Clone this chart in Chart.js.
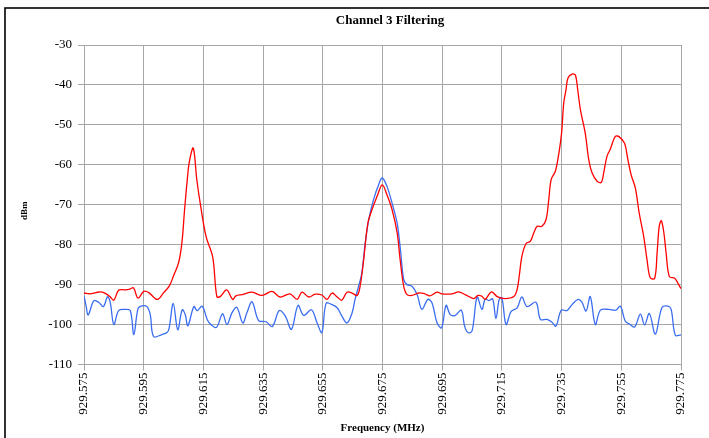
<!DOCTYPE html>
<html>
<head>
<meta charset="utf-8">
<title>Channel 3 Filtering</title>
<script src="https://cdn.jsdelivr.net/npm/chart.js@4/dist/chart.umd.min.js"></script>
<style>
  html, body { margin: 0; padding: 0; background: #ffffff; }
  #wrap { width: 709px; height: 438px; }
</style>
</head>
<body>
<div id="wrap"><canvas id="chart" width="709" height="438"></canvas></div>
<script>
// Sweep without filter (red) and with filter (blue), frequency in MHz, level in dBm
const unfilteredFreq = [
  929.5750, 929.5770, 929.5790, 929.5807, 929.5824, 929.5837, 929.5850, 929.5866, 929.5887, 929.5904,
  929.5916, 929.5931, 929.5950, 929.5967, 929.5995, 929.6017, 929.6036, 929.6050, 929.6067, 929.6078,
  929.6087, 929.6096, 929.6103, 929.6116, 929.6128, 929.6141, 929.6159, 929.6181, 929.6195, 929.6206,
  929.6228, 929.6248, 929.6259, 929.6279, 929.6313, 929.6346, 929.6380, 929.6407, 929.6440, 929.6464,
  929.6480, 929.6503, 929.6524, 929.6547, 929.6564, 929.6581, 929.6598, 929.6614, 929.6631, 929.6648,
  929.6665, 929.6675, 929.6687, 929.6701, 929.6715, 929.6732, 929.6749, 929.6765, 929.6782, 929.6799,
  929.6809, 929.6821, 929.6832, 929.6849, 929.6871, 929.6892, 929.6909, 929.6933, 929.6949, 929.6983,
  929.7005, 929.7027, 929.7056, 929.7070, 929.7083, 929.7094, 929.7115, 929.7134, 929.7161, 929.7190,
  929.7201, 929.7208, 929.7217, 929.7231, 929.7245, 929.7257, 929.7268, 929.7284, 929.7298, 929.7307,
  929.7315, 929.7329, 929.7340, 929.7350, 929.7357, 929.7365, 929.7371, 929.7385, 929.7396, 929.7404,
  929.7413, 929.7429, 929.7441, 929.7452, 929.7469, 929.7483, 929.7491, 929.7502, 929.7513, 929.7530,
  929.7543, 929.7561, 929.7572, 929.7583, 929.7597, 929.7610, 929.7625, 929.7636, 929.7647, 929.7662,
  929.7670, 929.7677, 929.7684, 929.7692, 929.7700, 929.7711, 929.7729, 929.7740, 929.7750
];
const unfilteredDbm = [
  -92.1, -92.3, -92.0, -91.8, -92.3, -93.0, -93.9, -91.4, -91.3, -91.1,
  -90.8, -93.4, -91.7, -92.0, -93.7, -92.0, -90.3, -87.8, -84.5, -79.5,
  -71.2, -63.7, -59.2, -55.8, -63.8, -70.4, -78.0, -83.0, -93.0, -93.0,
  -91.3, -93.7, -92.8, -92.5, -91.9, -92.7, -91.7, -93.1, -92.3, -93.7,
  -91.9, -93.1, -92.4, -92.6, -93.7, -92.1, -93.1, -93.9, -91.9, -92.1,
  -92.7, -90.4, -83.7, -74.6, -71.2, -67.9, -65.0, -67.5, -71.2, -77.0,
  -83.7, -90.4, -92.5, -92.7, -92.1, -92.3, -92.8, -91.9, -92.3, -92.3,
  -91.8, -92.5, -93.5, -92.7, -92.9, -93.7, -91.8, -93.0, -93.5, -93.0,
  -91.2, -87.9, -82.9, -79.7, -79.2, -77.0, -75.4, -75.4, -73.7, -68.7,
  -63.7, -61.6, -57.5, -52.0, -44.6, -41.1, -38.3, -37.3, -37.5, -41.2,
  -46.2, -52.0, -58.7, -62.0, -64.1, -64.4, -62.0, -57.9, -56.1, -52.9,
  -53.0, -54.6, -58.7, -62.5, -65.8, -72.1, -77.9, -83.7, -88.3, -88.4,
  -82.0, -75.4, -74.0, -76.7, -82.0, -88.0, -88.4, -89.7, -91.0
];

const filteredFreq = [
  929.5750, 929.5757, 929.5764, 929.5783, 929.5799, 929.5815, 929.5829, 929.5838, 929.5850, 929.5866,
  929.5888, 929.5905, 929.5917, 929.5931, 929.5944, 929.5961, 929.5972, 929.5983, 929.6011, 929.6028,
  929.6035, 929.6049, 929.6064, 929.6079, 929.6089, 929.6098, 929.6118, 929.6129, 929.6146, 929.6163,
  929.6175, 929.6194, 929.6214, 929.6229, 929.6246, 929.6262, 929.6282, 929.6296, 929.6313, 929.6335,
  929.6360, 929.6381, 929.6404, 929.6424, 929.6445, 929.6467, 929.6486, 929.6512, 929.6531, 929.6547,
  929.6561, 929.6581, 929.6598, 929.6614, 929.6631, 929.6648, 929.6658, 929.6670, 929.6681, 929.6692,
  929.6704, 929.6720, 929.6737, 929.6749, 929.6765, 929.6782, 929.6799, 929.6810, 929.6821, 929.6832,
  929.6849, 929.6866, 929.6882, 929.6902, 929.6916, 929.6933, 929.6948, 929.6963, 929.6977, 929.6994,
  929.7014, 929.7025, 929.7036, 929.7050, 929.7067, 929.7083, 929.7094, 929.7106, 929.7119, 929.7130,
  929.7141, 929.7150, 929.7164, 929.7181, 929.7201, 929.7217, 929.7234, 929.7264, 929.7279, 929.7301,
  929.7318, 929.7331, 929.7349, 929.7368, 929.7385, 929.7405, 929.7418, 929.7432, 929.7446, 929.7463,
  929.7480, 929.7508, 929.7532, 929.7547, 929.7563, 929.7580, 929.7595, 929.7614, 929.7628, 929.7644,
  929.7664, 929.7686, 929.7706, 929.7717, 929.7731, 929.7750
];
const filteredDbm = [
  -92.9, -95.3, -97.6, -94.0, -94.4, -95.5, -93.0, -94.5, -100.0, -96.5,
  -96.2, -96.5, -102.5, -96.0, -95.3, -95.5, -97.5, -103.0, -102.5, -102.0,
  -101.0, -94.7, -101.3, -96.3, -97.5, -100.3, -95.5, -96.5, -95.4, -98.8,
  -100.0, -100.7, -97.3, -100.0, -97.0, -95.7, -99.6, -97.0, -94.3, -99.0,
  -99.3, -100.5, -96.5, -97.8, -101.2, -95.2, -97.7, -96.3, -99.6, -102.0,
  -94.7, -95.0, -95.8, -97.9, -99.6, -97.1, -93.7, -90.4, -87.0, -79.6,
  -73.7, -68.7, -65.0, -63.3, -65.4, -69.6, -74.6, -81.2, -88.7, -90.0,
  -90.4, -92.5, -96.2, -93.7, -94.6, -99.6, -100.8, -95.2, -97.5, -97.7,
  -96.4, -100.4, -102.0, -101.6, -93.1, -96.2, -93.6, -94.0, -93.6, -98.5,
  -93.7, -93.3, -100.0, -96.7, -95.8, -93.1, -95.5, -94.4, -98.7, -98.7,
  -99.4, -100.4, -96.4, -96.5, -95.0, -93.7, -94.4, -96.6, -93.0, -100.0,
  -96.4, -96.2, -96.4, -95.4, -99.1, -100.0, -100.6, -97.4, -100.1, -97.2,
  -102.4, -95.8, -95.4, -96.2, -102.7, -102.6
];

const freqTicks = [929.575, 929.595, 929.615, 929.635, 929.655, 929.675, 929.695, 929.715, 929.735, 929.755, 929.775];
const levelTicks = [-110, -100, -90, -80, -70, -60, -50, -40, -30];

const chartTitle = 'Channel 3 Filtering';
const xTitle = 'Frequency (MHz)';
const yTitle = 'dBm';

const SERIF = '"Liberation Serif", "Times New Roman", serif';
const GRID = '#a6a6a6';

function pairs(xs, ys) {
  return xs.map((x, i) => ({ x: x, y: ys[i] }));
}

// Frame, title and axis titles drawn on the canvas around the plot area
const decorations = {
  id: 'decorations',
  afterDraw(chart) {
    const ctx = chart.ctx;
    const area = chart.chartArea;
    ctx.save();
    ctx.strokeStyle = '#000000';
    ctx.lineWidth = 1.6;
    ctx.strokeRect(5, 8, chart.width + 20, chart.height + 20);

    ctx.fillStyle = '#000000';
    ctx.textAlign = 'center';
    ctx.textBaseline = 'middle';
    ctx.font = 'bold 13px ' + SERIF;
    ctx.fillText(chartTitle, 390, 21);

    ctx.font = 'bold 11px ' + SERIF;
    ctx.fillText(xTitle, (area.left + area.right) / 2, 428);

    ctx.translate(25, (area.top + area.bottom) / 2 + 6);
    ctx.rotate(-Math.PI / 2);
    ctx.font = 'bold 9px ' + SERIF;
    ctx.fillText(yTitle, 0, 0);
    ctx.restore();
  }
};

new Chart(document.getElementById('chart'), {
  type: 'line',
  data: {
    datasets: [
      {
        label: 'Unfiltered',
        data: pairs(unfilteredFreq, unfilteredDbm),
        borderColor: '#ff0000',
        borderWidth: 1.3,
        pointRadius: 0,
        tension: 0.35,
        fill: false
      },
      {
        label: 'Filtered',
        data: pairs(filteredFreq, filteredDbm),
        borderColor: '#3a6df0',
        borderWidth: 1.3,
        pointRadius: 0,
        tension: 0.35,
        fill: false
      }
    ]
  },
  options: {
    responsive: false,
    animation: false,
    devicePixelRatio: 1,
    layout: { padding: { top: 45, left: 10, right: 28, bottom: 0 } },
    plugins: {
      legend: { display: false },
      title: { display: false },
      tooltip: { enabled: false }
    },
    scales: {
      x: {
        type: 'linear',
        min: freqTicks[0],
        max: freqTicks[freqTicks.length - 1],
        afterBuildTicks(scale) {
          scale.ticks = freqTicks.map(v => ({ value: v }));
        },
        afterFit(scale) { scale.height = 73.5; },
        ticks: {
          callback: v => Number(v).toFixed(3),
          minRotation: 90,
          maxRotation: 90,
          autoSkip: false,
          padding: 2,
          color: '#000000',
          font: { family: SERIF, size: 13 }
        },
        grid: { color: GRID, lineWidth: 1, tickLength: 6, drawTicks: true },
        border: { color: GRID, width: 1 }
      },
      y: {
        type: 'linear',
        min: levelTicks[0],
        max: levelTicks[levelTicks.length - 1],
        afterBuildTicks(scale) {
          scale.ticks = levelTicks.map(v => ({ value: v }));
        },
        afterFit(scale) { scale.width = 74; },
        ticks: {
          padding: 6,
          color: '#000000',
          font: { family: SERIF, size: 13 }
        },
        grid: { color: GRID, lineWidth: 1, tickLength: 6, drawTicks: true },
        border: { color: GRID, width: 1 }
      }
    }
  },
  plugins: [decorations]
});
</script>
</body>
</html>
